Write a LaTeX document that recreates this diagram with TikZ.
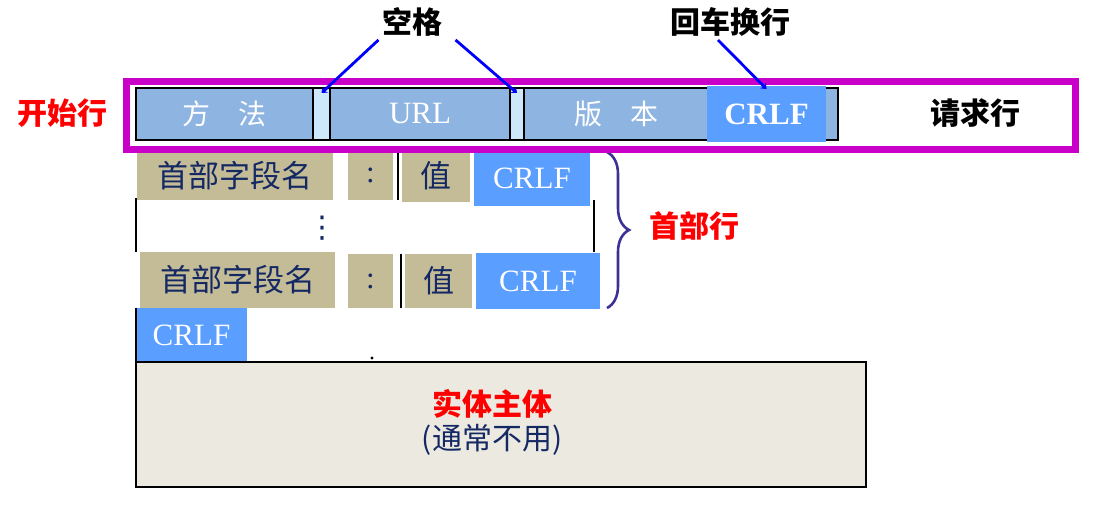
\documentclass[tikz,border=0pt]{standalone}
\usepackage{fontspec}
\setmainfont{Liberation Serif}
\newfontfamily\cjk{Noto Sans CJK SC}
\newfontfamily\symfont{DejaVu Sans}
\usetikzlibrary{decorations.pathreplacing,arrows.meta}
\definecolor{reqblue}{RGB}{142,180,226}
\definecolor{gapcyan}{RGB}{204,232,250}
\definecolor{crlfblue}{RGB}{90,158,255}
\definecolor{hdrtan}{RGB}{196,188,150}
\definecolor{bodygray}{RGB}{236,234,224}
\definecolor{navy}{RGB}{20,40,100}
\definecolor{linemag}{RGB}{200,0,200}
\definecolor{bracepur}{RGB}{60,50,150}
\tikzset{
  cell/.style={anchor=north west,inner sep=0pt,outer sep=0pt,font=\fontsize{31}{33}\selectfont},
  reqcell/.style={cell,draw=black,line width=1.2pt,fill=reqblue,text=white,minimum height=52},
  hdrcell/.style={cell,fill=hdrtan,text=navy},
  crlfcell/.style={cell,fill=crlfblue,text=white},
  pointer/.style={draw=blue,line width=2.8pt,-{Stealth[length=5pt,width=8pt]}},
  lbl/.style={font=\cjk\bfseries\fontsize{30}{33}\selectfont}
}
\begin{document}
\begin{tikzpicture}[x=1pt,y=-1pt]
  \useasboundingbox (0,0) rectangle (1093,505);
  % request line
  \node[reqcell,minimum width=177,font=\cjk\fontsize{28}{30}\selectfont] (ff) at (136,88) {方\quad 法};
  \node[reqcell,minimum width=17,fill=gapcyan] (g1) at (313,88) {};
  \node[reqcell,minimum width=180] (url) at (330,88) {URL};
  \node[reqcell,minimum width=14,fill=gapcyan] (g2) at (510,88) {};
  \node[reqcell,minimum width=184,font=\cjk\fontsize{28}{30}\selectfont] (bb) at (524,88) {版\quad 本};
  \node[reqcell,minimum width=130] (tl) at (708,88) {};
  \node[crlfcell,minimum width=119,minimum height=56,font=\bfseries\fontsize{31}{33}\selectfont] (cr0) at (707,86) {CRLF};
  % header lines
  \node[hdrcell,minimum width=196,minimum height=48,font=\cjk\fontsize{31}{33}\selectfont] (hn1) at (137,152) {首部字段名};
  \node[hdrcell,minimum width=45,minimum height=50] (hc1) at (348,150) {:};
  \node[hdrcell,minimum width=68,minimum height=52,font=\cjk\fontsize{31}{33}\selectfont] (hv1) at (402,150) {值};
  \node[crlfcell,minimum width=116,minimum height=56] (hr1) at (474,150) {CRLF};
  \draw[line width=1.5] ([xshift=5]hc1.north east) -- ([xshift=5]hc1.south east);
  \node[hdrcell,minimum width=195,minimum height=56,font=\cjk\fontsize{31}{33}\selectfont] (hn2) at (140,252) {首部字段名};
  \node[hdrcell,minimum width=45,minimum height=54] (hc2) at (348,254) {:};
  \node[hdrcell,minimum width=67,minimum height=54,font=\cjk\fontsize{31}{33}\selectfont] (hv2) at (405,254) {值};
  \node[crlfcell,minimum width=124,minimum height=56] (hr2) at (476,253) {CRLF};
  \draw[line width=1.5] ([xshift=8]hc2.north east) -- ([xshift=8]hc2.south east);
  \draw[line width=1.5] (136,198) -- (136,252);
  \draw[line width=1.5] (594,200) -- (594,252);
  \node[text=navy,font=\symfont\fontsize{30}{30}\selectfont] (dd) at (322,228) {⋮};
  \draw[decorate,decoration={brace,amplitude=22pt},bracepur,line width=2.6pt] (607,152) -- (607,308);
  \node[lbl,text=red] (sb) at (694,226) {首部行};
  % empty line and body
  \node[crlfcell,minimum width=111,minimum height=54] (er) at (136,308) {CRLF};
  \draw[line width=1.5] (er.north west) -- (er.south west);
  \node[cell,draw=black,line width=1.8pt,fill=bodygray,minimum width=730,minimum height=125] (body) at (136,362) {};
  \fill (372,358) circle (1.6);
  \node[lbl,text=red] (bt) at (492,404) {实体主体};
  \node[font=\cjk\fontsize{30}{33}\selectfont,text=navy] (bn) at (492,440) {(通常不用)};
  % start line frame
  \draw[linemag,line width=7pt] (126,82) rectangle (1075,150);
  \node[lbl,text=red] (ks) at (62,113) {开始行};
  \node[lbl] (qq) at (975,113) {请求行};
  \node[lbl] (kg) at (412,22) {空格};
  \node[lbl] (hh) at (730,22) {回车换行};
  \draw[pointer] ([xshift=0]kg.south west) -- ([yshift=-5]g1.north);
  \draw[pointer] ([xshift=10]kg.south east) -- ([yshift=-5]g2.north);
  \draw[pointer] ([xshift=-12]hh.south) -- ([yshift=-3]cr0.north);
\end{tikzpicture}
\end{document}
